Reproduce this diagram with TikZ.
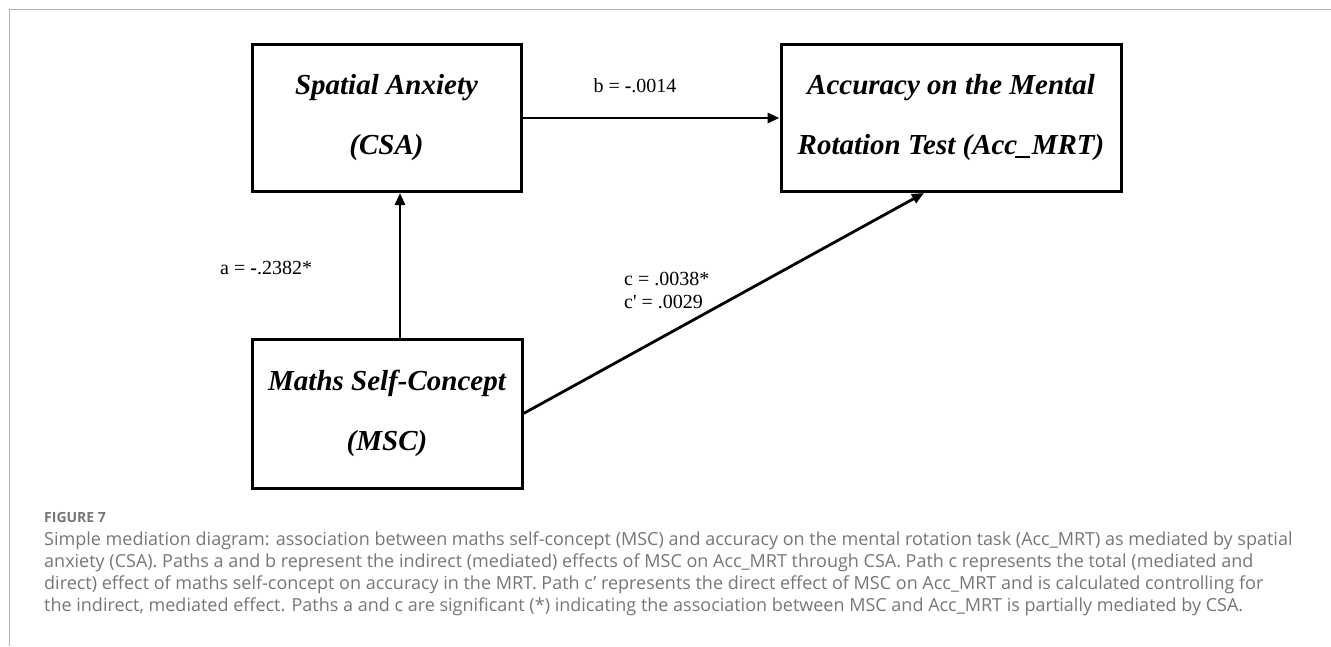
\documentclass[tikz,border=0pt]{standalone}
\usepackage{fontspec}
\setmainfont{Liberation Serif}
\newfontfamily\capfont{Open Sans}
\usetikzlibrary{arrows.meta,calc}
\definecolor{capgray}{RGB}{118,118,118}
\definecolor{framegray}{RGB}{178,178,178}
\tikzset{
  varbox/.style={draw=black, line width=3pt, minimum width=269pt, minimum height=147pt, align=center, inner sep=0pt, font=\fontsize{29}{60}\selectfont\bfseries\itshape},
  patharrow/.style={draw=black, line width=2.8pt, -{Triangle[length=12pt,width=10pt]}},
  coef/.style={font=\fontsize{20}{23}\selectfont, inner sep=0pt},
  captext/.style={font=\capfont\fontsize{18}{22}\selectfont, text=capgray, anchor=west, inner sep=0pt},
}
\begin{document}
\begin{tikzpicture}[x=1pt,y=-1pt]
\useasboundingbox (0,0) rectangle (1331,646);
\draw[framegray, line width=1.4pt] (9.5,646) -- (9.5,9.5) -- (1331,9.5);
\node[varbox] (csa) at (386.5,118) {\raisebox{1.5pt}{Spatial Anxiety}\\\raisebox{1.5pt}{(CSA)}};
\node[varbox, minimum width=340pt] (acc) at (951,118) {\raisebox{1.5pt}{Accuracy on the Mental}\\\raisebox{1.5pt}{Rotation Test (Acc\_MRT)}};
\node[varbox, minimum width=270pt, minimum height=149pt] (msc) at (387,413.5) {Maths Self-Concept\\(MSC)};
\draw[patharrow] (csa.east) -- (acc.west);
\draw[patharrow] ($(msc.north)+(13,0)$) -- ($(csa.south)+(13.5,0)$);
\draw[patharrow] (msc.east) -- ($(acc.south)+(-27,0)$);
\node[coef] (lb) at (635,86) {b = \textbf{-}.0014};
\node[coef, anchor=west] (la) at (220,268) {a = \textbf{-}.2382*};
\node[coef, anchor=west] (lc) at (624,279) {c = .0038*};
\node[coef, anchor=west] (lcp) at (624,302) {c\textquotesingle{} = .0029};
\node[captext, font=\capfont\fontsize{14}{16}\selectfont\bfseries] (fig) at (44,517) {FIGURE 7};
\node[captext] (c1) at (44,541) {Simple mediation diagram: association between maths self-concept (MSC) and accuracy on the mental rotation task (Acc\_MRT) as mediated by spatial};
\node[captext] (c2) at (44,563) {anxiety (CSA). Paths a and b represent the indirect (mediated) effects of MSC on Acc\_MRT through CSA. Path c represents the total (mediated and};
\node[captext] (c3) at (44,585) {direct) effect of maths self-concept on accuracy in the MRT. Path c’ represents the direct effect of MSC on Acc\_MRT and is calculated controlling for};
\node[captext] (c4) at (44,607) {the indirect, mediated effect. Paths a and c are significant (*) indicating the association between MSC and Acc\_MRT is partially mediated by CSA.};
\end{tikzpicture}
\end{document}
